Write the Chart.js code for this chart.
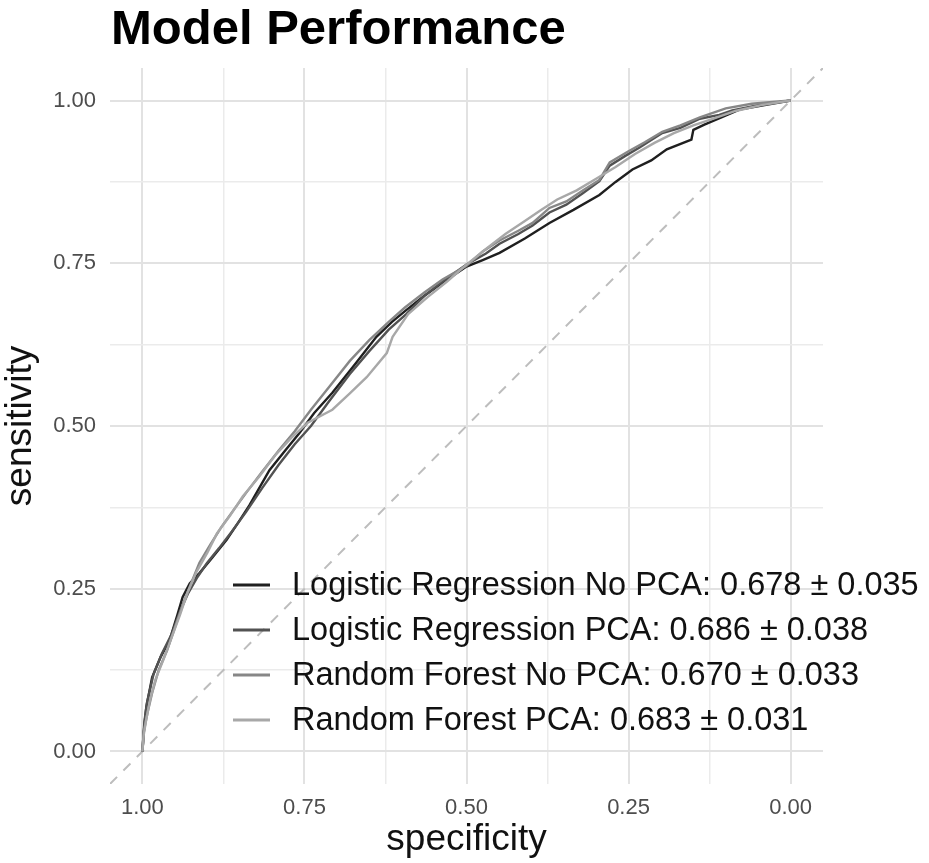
<!DOCTYPE html>
<html>
<head>
<meta charset="utf-8">
<script src="https://cdn.jsdelivr.net/npm/chart.js@4"></script>
<style>
  body { margin: 0; background: #fff; }
  canvas { display: block; }
</style>
</head>
<body>
<canvas id="roc" width="929" height="863"></canvas>
<script>
// series names as in the legend
const seriesNames = [
  'Logistic Regression No PCA: 0.678 \u00b1 0.035',
  'Logistic Regression PCA: 0.686 \u00b1 0.038',
  'Random Forest No PCA: 0.670 \u00b1 0.033',
  'Random Forest PCA: 0.683 \u00b1 0.031'
];
const seriesColors = ['#1f1f1f', '#525252', '#878787', '#a8a8a8'];

// tick values (major every 0.25, minor at 0.125 steps)
const tickValues = [0, 0.125, 0.25, 0.375, 0.5, 0.625, 0.75, 0.875, 1];
const majorTicks = [0, 0.25, 0.5, 0.75, 1];

// ROC points: specificity / sensitivity
const lrNoPcaSpec = [1.000,0.997,0.994,0.985,0.972,0.958,0.946,0.938,0.927,0.912,0.892,0.870,0.852,0.835,0.804,0.780,0.758,0.735,0.707,0.672,0.639,0.615,0.593,0.565,0.537,0.500,0.475,0.449,0.410,0.372,0.335,0.295,0.270,0.244,0.215,0.191,0.153,0.150,0.133,0.105,0.079,0.040,0.000];
const lrNoPcaSens = [0.000,0.040,0.068,0.114,0.145,0.171,0.210,0.237,0.258,0.274,0.298,0.325,0.352,0.378,0.432,0.462,0.489,0.520,0.551,0.595,0.637,0.660,0.678,0.700,0.720,0.745,0.755,0.766,0.788,0.812,0.832,0.855,0.875,0.894,0.908,0.925,0.940,0.955,0.963,0.975,0.986,0.993,1.000];

const lrPcaSpec = [1.000,0.997,0.993,0.983,0.970,0.955,0.942,0.930,0.915,0.900,0.882,0.862,0.840,0.815,0.790,0.765,0.740,0.712,0.680,0.650,0.620,0.593,0.565,0.537,0.500,0.470,0.449,0.420,0.398,0.372,0.346,0.320,0.295,0.279,0.255,0.233,0.198,0.170,0.140,0.110,0.090,0.050,0.000];
const lrPcaSens = [0.000,0.045,0.075,0.118,0.150,0.180,0.215,0.242,0.268,0.290,0.312,0.338,0.368,0.405,0.440,0.472,0.500,0.538,0.580,0.615,0.648,0.672,0.700,0.722,0.748,0.765,0.780,0.795,0.808,0.828,0.840,0.858,0.876,0.900,0.915,0.928,0.950,0.958,0.972,0.978,0.985,0.993,1.000];

const rfNoPcaSpec = [1.000,0.998,0.992,0.985,0.975,0.962,0.950,0.938,0.925,0.912,0.895,0.878,0.860,0.838,0.815,0.790,0.765,0.740,0.712,0.680,0.650,0.620,0.595,0.565,0.537,0.500,0.475,0.449,0.420,0.398,0.372,0.346,0.320,0.295,0.279,0.250,0.225,0.198,0.170,0.140,0.100,0.060,0.000];
const rfNoPcaSens = [0.000,0.030,0.060,0.090,0.125,0.155,0.190,0.225,0.258,0.290,0.318,0.345,0.370,0.400,0.430,0.462,0.492,0.525,0.560,0.600,0.632,0.660,0.682,0.705,0.725,0.746,0.768,0.785,0.800,0.812,0.835,0.845,0.862,0.878,0.905,0.922,0.936,0.952,0.962,0.974,0.988,0.995,1.000];

const rfPcaSpec = [1.000,0.998,0.994,0.988,0.980,0.968,0.955,0.942,0.930,0.917,0.900,0.885,0.865,0.845,0.820,0.795,0.770,0.745,0.707,0.680,0.654,0.623,0.614,0.590,0.560,0.530,0.500,0.470,0.440,0.410,0.385,0.360,0.330,0.300,0.270,0.240,0.210,0.180,0.150,0.120,0.085,0.045,0.000];
const rfPcaSens = [0.000,0.025,0.050,0.080,0.110,0.140,0.175,0.210,0.245,0.275,0.305,0.335,0.362,0.392,0.422,0.455,0.482,0.505,0.525,0.550,0.575,0.612,0.637,0.672,0.698,0.722,0.748,0.772,0.795,0.815,0.832,0.848,0.862,0.880,0.898,0.918,0.935,0.950,0.962,0.972,0.984,0.993,1.000];

// chance line, spanning the whole panel
const diagSpec = [1.05, -0.05];
const diagSens = [-0.05, 1.05];

function pts(xs, ys) {
  return xs.map((x, i) => ({ x: x, y: ys[i] }));
}

const curves = [
  pts(lrNoPcaSpec, lrNoPcaSens),
  pts(lrPcaSpec, lrPcaSens),
  pts(rfNoPcaSpec, rfNoPcaSens),
  pts(rfPcaSpec, rfPcaSens)
];

const datasets = curves.map((d, i) => ({
  label: seriesNames[i],
  data: d,
  borderColor: seriesColors[i],
  borderWidth: 2.4,
  pointRadius: 0,
  tension: 0,
  fill: false,
  order: 4 - i
}));
datasets.push({
  label: 'chance',
  data: pts(diagSpec, diagSens),
  borderColor: '#bdbdbd',
  borderWidth: 2,
  borderDash: [10, 9],
  pointRadius: 0,
  fill: false,
  order: 10
});

function isMajor(v) {
  return majorTicks.some(m => Math.abs(m - v) < 1e-6);
}

const gridOpts = {
  color: c => isMajor(c.tick.value) ? '#e2e2e2' : '#ebebeb',
  lineWidth: c => isMajor(c.tick.value) ? 2 : 1.5,
  drawTicks: false
};

const titlePlugin = {
  id: 'bigTitle',
  afterDraw(chart) {
    const ctx = chart.ctx;
    ctx.save();
    ctx.fillStyle = '#000';
    ctx.font = 'bold 49px "Liberation Sans", Arial, sans-serif';
    ctx.textBaseline = 'alphabetic';
    ctx.textAlign = 'left';
    ctx.fillText('Model Performance', 111, 44);
    ctx.restore();
  }
};

const legendPlugin = {
  id: 'insideLegend',
  afterDatasetsDraw(chart) {
    const ctx = chart.ctx;
    ctx.save();
    ctx.font = '32.5px "Liberation Sans", Arial, sans-serif';
    ctx.textBaseline = 'middle';
    ctx.textAlign = 'left';
    seriesNames.forEach((name, i) => {
      const y = 585 + i * 45;
      ctx.strokeStyle = seriesColors[i];
      ctx.lineWidth = 3;
      ctx.beginPath();
      ctx.moveTo(233, y);
      ctx.lineTo(270, y);
      ctx.stroke();
      ctx.fillStyle = '#111';
      ctx.fillText(name, 292, y + 1);
    });
    ctx.restore();
  }
};

new Chart(document.getElementById('roc'), {
  type: 'line',
  data: { datasets: datasets },
  plugins: [titlePlugin, legendPlugin],
  options: {
    responsive: false,
    animation: false,
    devicePixelRatio: 1,
    layout: { padding: { top: 68, right: 106, bottom: 0, left: 0 } },
    plugins: { legend: { display: false }, tooltip: { enabled: false } },
    scales: {
      x: {
        type: 'linear',
        reverse: true,
        min: -0.05,
        max: 1.05,
        afterBuildTicks: s => { s.ticks = tickValues.map(v => ({ value: v })); },
        afterFit: s => { s.height = 79; },
        grid: gridOpts,
        border: { display: false },
        ticks: {
          autoSkip: false,
          maxRotation: 0,
          padding: 11,
          color: '#4d4d4d',
          font: { family: '"Liberation Sans", Arial, sans-serif', size: 22 },
          callback: v => isMajor(v) ? v.toFixed(2) : ''
        },
        title: {
          display: true,
          text: 'specificity',
          color: '#111',
          font: { family: '"Liberation Sans", Arial, sans-serif', size: 37, lineHeight: 1.2 },
          padding: 1
        }
      },
      y: {
        type: 'linear',
        min: -0.05,
        max: 1.05,
        afterBuildTicks: s => { s.ticks = tickValues.map(v => ({ value: v })); },
        afterFit: s => { s.width = 110; },
        grid: gridOpts,
        border: { display: false },
        ticks: {
          autoSkip: false,
          padding: 14,
          color: '#4d4d4d',
          font: { family: '"Liberation Sans", Arial, sans-serif', size: 22 },
          callback: v => isMajor(v) ? v.toFixed(2) : ''
        },
        title: {
          display: true,
          text: 'sensitivity',
          color: '#111',
          font: { family: '"Liberation Sans", Arial, sans-serif', size: 37, lineHeight: 1.1 },
          padding: 0
        }
      }
    }
  }
});
</script>
</body>
</html>
